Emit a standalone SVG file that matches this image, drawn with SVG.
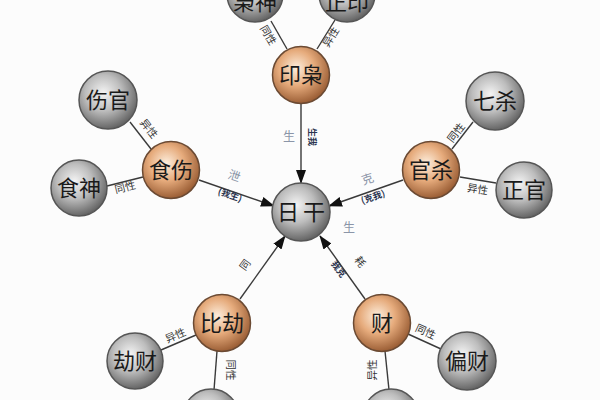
<svg xmlns="http://www.w3.org/2000/svg" width="600" height="400" viewBox="0 0 600 400">
<defs>
<radialGradient id="gGray" cx="0.42" cy="0.38" r="0.62">
<stop offset="0" stop-color="#f4f4f4"/>
<stop offset="0.5" stop-color="#bdbdbd"/>
<stop offset="1" stop-color="#666"/>
</radialGradient>
<radialGradient id="gOrange" cx="0.42" cy="0.38" r="0.62">
<stop offset="0" stop-color="#fdeedd"/>
<stop offset="0.5" stop-color="#e6ab7c"/>
<stop offset="1" stop-color="#9c5f36"/>
</radialGradient>
<marker id="arr" markerUnits="userSpaceOnUse" markerWidth="14" markerHeight="10" refX="13" refY="5" orient="auto">
<path d="M0,0 L14,5 L0,10 z" fill="#111"/>
</marker>
<style>
.gray{fill:url(#gGray);stroke:#555;stroke-width:1.5}
.orange{fill:url(#gOrange);stroke:#6b4a33;stroke-width:1.5}
.nt{font-family:"Noto Sans CJK SC","Noto Sans CJK TC",sans-serif;font-size:22px;fill:#1a1a1a;text-anchor:middle}
.line{stroke:#3a3a3a;stroke-width:1.4;fill:none}
.lab{font-family:"Noto Sans CJK SC",sans-serif;font-size:10.5px;fill:#333;text-anchor:middle}
.lab2{font-family:"Noto Sans CJK SC",sans-serif;font-size:12px;fill:#8b95a8;text-anchor:middle}
.lab3{font-family:"Noto Sans CJK SC",sans-serif;font-size:9px;fill:#2b3550;text-anchor:middle;font-weight:bold}
</style>
</defs>
<rect width="600" height="400" fill="#fcfcfc"/>
<g id="connectors">
<line class="line" x1="271" y1="21" x2="287" y2="49"/>
<line class="line" x1="335" y1="20" x2="317" y2="49"/>
<line class="line" x1="301" y1="104" x2="301" y2="183" marker-end="url(#arr)"/>
<line class="line" x1="130" y1="122" x2="151" y2="149"/>
<line class="line" x1="107" y1="186" x2="143" y2="177"/>
<line class="line" x1="199" y1="180" x2="274" y2="206" marker-end="url(#arr)"/>
<line class="line" x1="473" y1="122" x2="452" y2="149"/>
<line class="line" x1="460" y1="177" x2="496" y2="183"/>
<line class="line" x1="403" y1="180" x2="329" y2="206" marker-end="url(#arr)"/>
<line class="line" x1="240" y1="299" x2="285" y2="236" marker-end="url(#arr)"/>
<line class="line" x1="161" y1="350" x2="196" y2="335"/>
<line class="line" x1="217" y1="351" x2="214" y2="390"/>
<line class="line" x1="365" y1="299" x2="320" y2="236" marker-end="url(#arr)"/>
<line class="line" x1="408" y1="334" x2="441" y2="349"/>
<line class="line" x1="385" y1="351" x2="389" y2="390"/>
<text class="lab" transform="translate(265,37) rotate(60)">同性</text>
<text class="lab" transform="translate(334,39) rotate(-58)">异性</text>
<text class="lab2" x="289" y="141">生</text>
<text class="lab3" transform="translate(309,137) rotate(90)">生我</text>
<text class="lab" transform="translate(146,131) rotate(52)">异性</text>
<text class="lab" transform="translate(126,191) rotate(-14)">同性</text>
<text class="lab2" transform="translate(233,180) rotate(19)">泄</text>
<text class="lab3" transform="translate(229,198) rotate(19)">(我生)</text>
<text class="lab" transform="translate(459,135) rotate(-52)">同性</text>
<text class="lab" transform="translate(477,193) rotate(9)">异性</text>
<text class="lab2" transform="translate(369,183) rotate(-19)">克</text>
<text class="lab3" transform="translate(374,200) rotate(-19)">(克我)</text>
<text class="lab2" x="349" y="232">生</text>
<text class="lab" transform="translate(248,267) rotate(-54)">同</text>
<text class="lab" transform="translate(177,339) rotate(-23)">异性</text>
<text class="lab" transform="translate(227,370) rotate(90)">同性</text>
<text class="lab" transform="translate(357,264) rotate(54)">耗</text>
<text class="lab3" transform="translate(336,271) rotate(54)">我克</text>
<text class="lab" transform="translate(424,335) rotate(25)">同性</text>
<text class="lab" transform="translate(376,370) rotate(-90)">异性</text>
</g>
<g id="node-xiaoshen"><circle class="gray" cx="255" cy="-6" r="28"/><text class="nt" x="255" y="10">枭神</text></g>
<g id="node-zhengyin"><circle class="gray" cx="347" cy="-6" r="28"/><text class="nt" x="347" y="10">正印</text></g>
<g id="node-yinxiao"><circle class="orange" cx="301" cy="75" r="28.5"/><text class="nt" x="301" y="83">印枭</text></g>
<g id="node-rigan"><circle class="gray" cx="301" cy="212" r="29"/><text class="nt" x="303" y="220" style="letter-spacing:4px">日干</text></g>
<g id="node-shishang"><circle class="orange" cx="171" cy="170" r="28.5"/><text class="nt" x="171" y="178">食伤</text></g>
<g id="node-shangguan"><circle class="gray" cx="108" cy="100" r="29"/><text class="nt" x="108" y="108">伤官</text></g>
<g id="node-shishen"><circle class="gray" cx="79" cy="188" r="28"/><text class="nt" x="79" y="196">食神</text></g>
<g id="node-guansha"><circle class="orange" cx="431" cy="170" r="28.5"/><text class="nt" x="431" y="178">官杀</text></g>
<g id="node-qisha"><circle class="gray" cx="495" cy="101" r="29"/><text class="nt" x="495" y="109">七杀</text></g>
<g id="node-zhengguan"><circle class="gray" cx="524" cy="190" r="28"/><text class="nt" x="524" y="198">正官</text></g>
<g id="node-bijie"><circle class="orange" cx="222" cy="323" r="28.5"/><text class="nt" x="222" y="331">比劫</text></g>
<g id="node-jiecai"><circle class="gray" cx="135" cy="361" r="28"/><text class="nt" x="135" y="369">劫财</text></g>
<g id="node-bottom-left"><circle class="gray" cx="211" cy="417" r="28"/></g>
<g id="node-cai"><circle class="orange" cx="382" cy="323" r="28.5"/><text class="nt" x="382" y="331">财</text></g>
<g id="node-piancai"><circle class="gray" cx="467" cy="361" r="29"/><text class="nt" x="467" y="369">偏财</text></g>
<g id="node-bottom-right"><circle class="gray" cx="391" cy="417" r="28"/></g>
</svg>
